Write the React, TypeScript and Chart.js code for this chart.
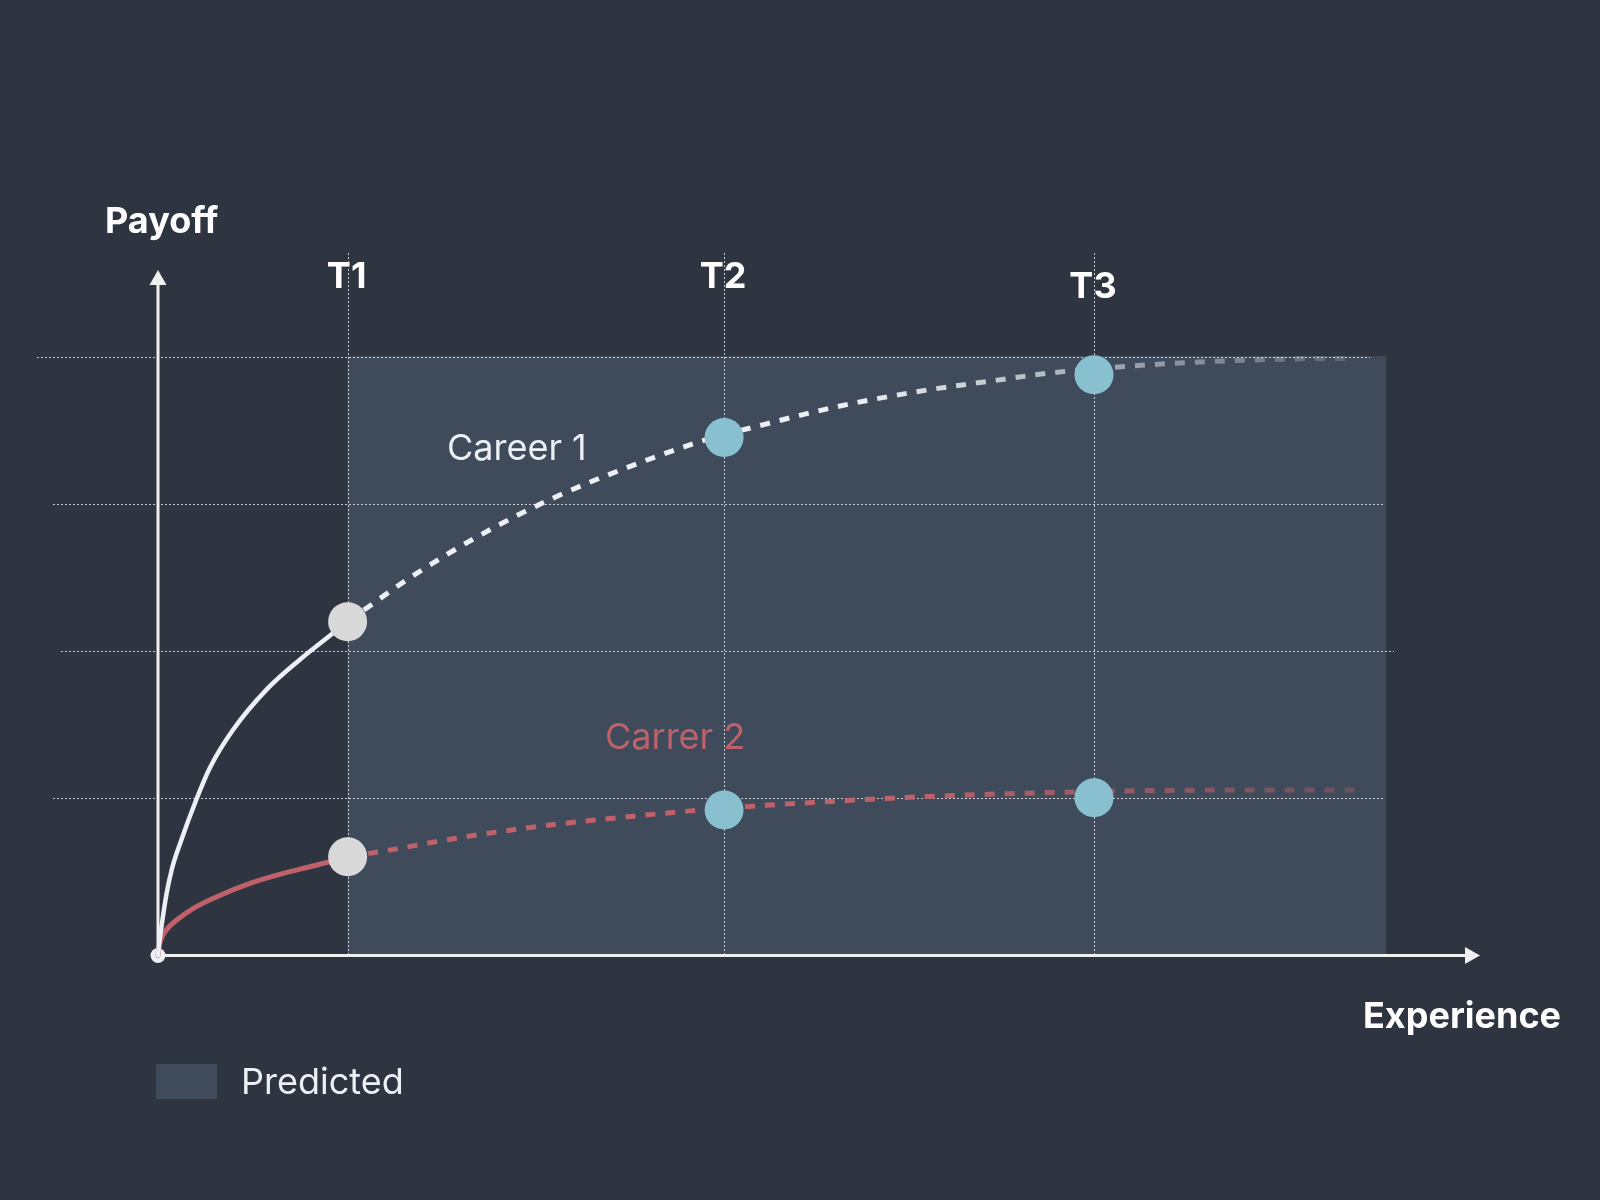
import React, { useEffect, useRef } from 'react';
import { Chart, registerables } from 'chart.js';

Chart.register(...registerables);

// ---------- data ----------
const tickLabels = ['T1', 'T2', 'T3'];
const tickValues = [1.013, 3.024, 5.0];
const gridValues = [1.07, 2.07, 3.07, 4.07];
const predictedStart = 1.013;
const predictedEnd = 6.56;
const predictedTop = 4.078;

const career1ActualX = [0, 0.008, 0.021, 0.046, 0.075, 0.118, 0.207, 0.278, 0.402, 0.581, 0.759, 0.919, 1.013];
const career1ActualY = [0, 0.095, 0.218, 0.422, 0.592, 0.762, 1.068, 1.279, 1.537, 1.81, 2.014, 2.177, 2.271];
const career1PredX = [1.013, 1.355, 1.729, 2.108, 2.495, 2.895, 3.207, 3.626, 4.053, 4.462, 4.783, 5.203, 5.524, 5.844, 6.165, 6.378];
const career1PredY = [2.271, 2.577, 2.865, 3.11, 3.314, 3.495, 3.602, 3.733, 3.835, 3.91, 3.965, 4.01, 4.035, 4.051, 4.06, 4.062];

const career2ActualX = [0, 0.005, 0.016, 0.032, 0.053, 0.1, 0.189, 0.314, 0.491, 0.669, 0.812, 1.017];
const career2ActualY = [0, 0.054, 0.109, 0.15, 0.187, 0.241, 0.321, 0.4, 0.491, 0.559, 0.604, 0.672];
const career2PredX = [1.017, 1.186, 1.61, 2.037, 2.459, 2.886, 3.21, 3.638, 3.958, 4.284, 4.605, 4.818, 5.13, 5.871, 6.44];
const career2PredY = [0.672, 0.706, 0.801, 0.879, 0.937, 0.988, 1.019, 1.051, 1.073, 1.09, 1.103, 1.11, 1.119, 1.126, 1.126];

const career1Markers = [2.271, 3.524, 3.951];
const career2Markers = [0.672, 0.99, 1.073];
const markerColors = ['#d9d9d9', '#88c0d0', '#88c0d0'];

const seriesLabels = ['Career 1', 'Carrer 2'];
const legendLabel = 'Predicted';
const axisLabels = ['Payoff', 'Experience'];

// ---------- styles ----------
const BG = '#2e3440';
const SHADE = '#3f4a5a';
const WHITE = '#eceff4';
const RED = '#bf616a';
const FONT = 'Inter, "Noto Sans", sans-serif';

const toPts = (xs: number[], ys: number[]) => xs.map((x, i) => ({ x, y: ys[i] }));

function fadeGradient(chart: any, rgb: string, fullAt: number, zeroAt: number) {
  const xs = chart.scales.x;
  if (!xs || !chart.chartArea) return `rgb(${rgb})`;
  const x0 = xs.getPixelForValue(fullAt);
  const x1 = xs.getPixelForValue(zeroAt);
  const g = chart.ctx.createLinearGradient(x0, 0, x1, 0);
  g.addColorStop(0, `rgba(${rgb},1)`);
  g.addColorStop(1, `rgba(${rgb},0)`);
  return g;
}

const decorPlugin = {
  id: 'decor',
  beforeDraw(chart: any) {
    const { ctx, width, height } = chart;
    ctx.save();
    ctx.fillStyle = BG;
    ctx.fillRect(0, 0, width, height);
    ctx.restore();
  },
  beforeDatasetsDraw(chart: any) {
    const { ctx } = chart;
    const xs = chart.scales.x;
    const ys = chart.scales.y;
    const x0 = xs.getPixelForValue(0);
    const y0 = ys.getPixelForValue(0);
    ctx.save();
    // predicted area
    const px1 = xs.getPixelForValue(predictedStart);
    const px2 = xs.getPixelForValue(predictedEnd);
    const py1 = ys.getPixelForValue(predictedTop);
    ctx.fillStyle = SHADE;
    ctx.fillRect(px1, py1, px2 - px1, y0 - py1);

    // horizontal dotted grid
    const gridLeft = [53, 61, 53, 37];
    const gridRight = [1385, 1394, 1385, 1370];
    ctx.strokeStyle = 'rgba(236,239,244,0.8)';
    ctx.lineWidth = 1;
    ctx.setLineDash([2, 2]);
    gridValues.forEach((v, i) => {
      const y = Math.round(ys.getPixelForValue(v)) + 0.5;
      ctx.beginPath();
      ctx.moveTo(gridLeft[i], y);
      ctx.lineTo(gridRight[i], y);
      ctx.stroke();
    });
    // vertical dotted lines
    tickValues.forEach((v) => {
      const x = Math.round(xs.getPixelForValue(v)) + 0.5;
      ctx.beginPath();
      ctx.moveTo(x, 253);
      ctx.lineTo(x, y0);
      ctx.stroke();
    });
    ctx.setLineDash([]);

    // axes
    ctx.strokeStyle = '#f0f0f0';
    ctx.fillStyle = '#f0f0f0';
    ctx.lineWidth = 3;
    const yTop = chart.chartArea.top;
    const xRight = chart.chartArea.right;
    ctx.beginPath();
    ctx.moveTo(x0, y0);
    ctx.lineTo(x0, yTop + 12);
    ctx.stroke();
    ctx.beginPath();
    ctx.moveTo(x0, yTop);
    ctx.lineTo(x0 - 8.5, yTop + 15);
    ctx.lineTo(x0 + 8.5, yTop + 15);
    ctx.closePath();
    ctx.fill();

    ctx.beginPath();
    ctx.moveTo(x0, y0);
    ctx.lineTo(xRight - 12, y0);
    ctx.stroke();
    ctx.beginPath();
    ctx.moveTo(xRight, y0);
    ctx.lineTo(xRight - 15, y0 - 8.5);
    ctx.lineTo(xRight - 15, y0 + 8.5);
    ctx.closePath();
    ctx.fill();

    // origin dot
    ctx.fillStyle = WHITE;
    ctx.beginPath();
    ctx.arc(x0, y0, 7.5, 0, Math.PI * 2);
    ctx.fill();
    ctx.restore();
  },
  afterDatasetsDraw(chart: any) {
    const { ctx } = chart;
    const xs = chart.scales.x;
    ctx.save();
    ctx.textBaseline = 'alphabetic';
    ctx.fillStyle = '#ffffff';
    ctx.font = `bold 36px ${FONT}`;
    ctx.textAlign = 'center';
    const tBase = [288, 288, 297.5];
    tickLabels.forEach((t, i) => {
      ctx.fillText(t, xs.getPixelForValue(tickValues[i]) - 1, tBase[i]);
    });
    ctx.textAlign = 'left';
    ctx.fillText(axisLabels[0], 105, 232.5);
    ctx.fillText(axisLabels[1], 1363, 1027.5);

    ctx.font = `36px ${FONT}`;
    ctx.fillStyle = WHITE;
    ctx.fillText(seriesLabels[0], 447, 460);
    ctx.fillStyle = RED;
    ctx.fillText(seriesLabels[1], 605, 748.5);

    // legend
    ctx.fillStyle = SHADE;
    ctx.fillRect(156, 1064, 61, 35);
    ctx.fillStyle = WHITE;
    ctx.fillText(legendLabel, 241, 1094);
    ctx.restore();
  },
};

export default function App() {
  const canvasRef = useRef<HTMLCanvasElement | null>(null);

  useEffect(() => {
    const canvas = canvasRef.current;
    if (!canvas) return;
    const solidCommon = {
      type: 'line' as const,
      borderWidth: 4.5,
      pointRadius: 0,
      fill: false,
      cubicInterpolationMode: 'monotone' as const,
      borderCapStyle: 'round' as const,
      borderJoinStyle: 'round' as const,
      clip: false as any,
      order: 2,
    };
    const dashCommon = {
      type: 'line' as const,
      borderWidth: 5,
      pointRadius: 0,
      fill: false,
      cubicInterpolationMode: 'monotone' as const,
      borderDash: [10, 10],
      borderCapStyle: 'butt' as const,
      clip: false as any,
      order: 2,
    };
    const chart = new Chart(canvas, {
      type: 'line',
      data: {
        datasets: [
          {
            label: 'Career 1 markers',
            type: 'scatter',
            data: toPts(tickValues, career1Markers),
            pointRadius: 19.5,
            pointBackgroundColor: markerColors,
            pointBorderWidth: 0,
            showLine: false,
            clip: false as any,
            order: 0,
          } as any,
          {
            label: 'Career 2 markers',
            type: 'scatter',
            data: toPts(tickValues, career2Markers),
            pointRadius: 19.5,
            pointBackgroundColor: markerColors,
            pointBorderWidth: 0,
            showLine: false,
            clip: false as any,
            order: 0,
          } as any,
          {
            ...solidCommon,
            label: 'Career 1',
            data: toPts(career1ActualX, career1ActualY),
            borderColor: WHITE,
          },
          {
            ...solidCommon,
            label: 'Carrer 2',
            data: toPts(career2ActualX, career2ActualY),
            borderColor: RED,
            borderWidth: 5,
          },
          {
            ...dashCommon,
            label: 'Career 1 predicted',
            data: toPts(career1PredX, career1PredY),
            borderColor: (c: any) => fadeGradient(c.chart, '236,239,244', 3.72, 6.87),
          },
          {
            ...dashCommon,
            label: 'Carrer 2 predicted',
            data: toPts(career2PredX, career2PredY),
            borderColor: (c: any) => fadeGradient(c.chart, '191,97,106', 4.0, 7.58),
          },
        ],
      },
      options: {
        animation: false,
        responsive: true,
        maintainAspectRatio: false,
        devicePixelRatio: 1,
        layout: { padding: { left: 158, right: 120, top: 270, bottom: 244.5 } },
        scales: {
          x: { type: 'linear', min: 0, max: 7.062, display: false },
          y: { type: 'linear', min: 0, max: 4.663, display: false },
        },
        plugins: {
          legend: { display: false },
          tooltip: { enabled: false },
        },
        events: [],
      },
      plugins: [decorPlugin],
    } as any);
    return () => chart.destroy();
  }, []);

  return (
    <div style={{ position: 'absolute', left: 0, top: 0, width: 1600, height: 1200, background: BG }}>
      <canvas ref={canvasRef} />
    </div>
  );
}
